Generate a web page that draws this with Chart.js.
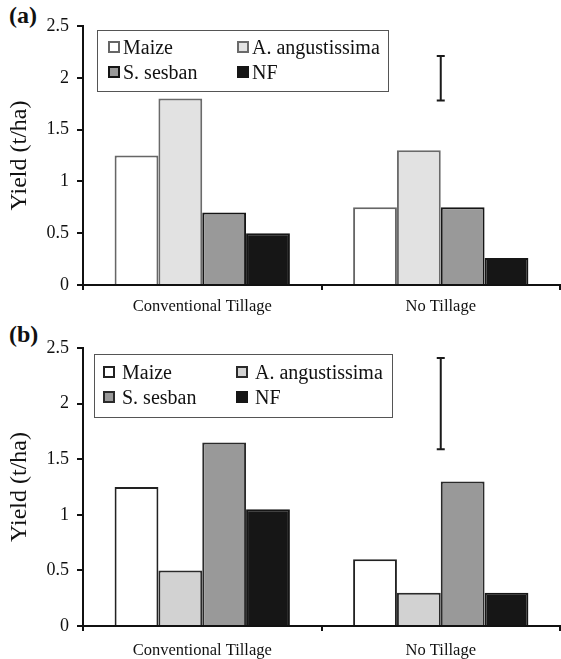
<!DOCTYPE html>
<html>
<head>
<meta charset="utf-8">
<script src="https://cdn.jsdelivr.net/npm/chart.js@4/dist/chart.umd.min.js"></script>
<style>
  body { margin: 0; background: #fff; }
  #wrap { position: relative; width: 561px; height: 659px; font-family: "Liberation Serif", "Times New Roman", serif; }
  canvas { position: absolute; left: 0; }
  .tag { position: absolute; font-weight: bold; font-size: 24px; color: #111; }
  .legend { position: absolute; border: 1.5px solid #555; box-sizing: border-box; }
  .item { position: absolute; font-size: 20px; color: #111; line-height: 20px; white-space: nowrap; }
  .sw { display: inline-block; width: 8px; height: 8px; border: 2px solid; vertical-align: 1px; }
</style>
</head>
<body>
<div id="wrap">
  <div class="tag" style="left:9px; top:2px;">(a)</div>
  <div class="tag" style="left:9px; top:321px;">(b)</div>
  <canvas id="chartA" width="561" height="320" style="top:0"></canvas>
  <canvas id="chartB" width="561" height="339" style="top:320px"></canvas>
  <div id="legendA" class="legend" style="left:97px; top:30px; width:292px; height:62px;"></div>
  <div id="legendB" class="legend" style="left:94px; top:354px; width:299px; height:64px;"></div>
</div>
<script>
// datos
const categories = ["Conventional Tillage", "No Tillage"];
const seriesNames = ["Maize", "A. angustissima", "S. sesban", "NF"];
const yTicks = [0, 0.5, 1, 1.5, 2, 2.5];

// panel (a)
const maizeA = [1.25, 0.75];
const angustissimaA = [1.8, 1.3];
const sesbanA = [0.7, 0.75];
const nfA = [0.5, 0.26];
const lsdA = [1.78, 2.21];

// panel (b)
const maizeB = [1.25, 0.6];
const angustissimaB = [0.5, 0.3];
const sesbanB = [1.65, 1.3];
const nfB = [1.05, 0.3];
const lsdB = [1.59, 2.41];

// colores por panel: relleno y borde
const fillA = ["#ffffff", "#e2e2e2", "#999999", "#161616"];
const edgeA = ["#666666", "#6a6a6a", "#151515", "#161616"];
const fillB = ["#ffffff", "#d2d2d2", "#999999", "#161616"];
const edgeB = ["#222222", "#2a2a2a", "#2a2a2a", "#161616"];

Chart.defaults.font.family = "'Liberation Serif', 'Times New Roman', serif";
Chart.defaults.color = "#111";

// barra de error (LSD) dibujada con las escalas del grafico
const lsdPlugin = {
  id: "lsd",
  afterDatasetsDraw(chart, args, opts) {
    const ctx = chart.ctx;
    const x = chart.scales.x.getPixelForValue(opts.category);
    const y1 = chart.scales.y.getPixelForValue(opts.range[0]);
    const y2 = chart.scales.y.getPixelForValue(opts.range[1]);
    ctx.save();
    ctx.strokeStyle = "#1a1a1a";
    ctx.lineWidth = 2;
    ctx.beginPath();
    ctx.moveTo(x, y1);
    ctx.lineTo(x, y2);
    ctx.moveTo(x - 4, y1);
    ctx.lineTo(x + 4, y1);
    ctx.moveTo(x - 4, y2);
    ctx.lineTo(x + 4, y2);
    ctx.stroke();
    ctx.restore();
  },
};

function makePanel(id, series, fills, edges, lsd, padTop, xHeight, xPad) {
  const datasets = series.map((values, i) => ({
    label: seriesNames[i],
    data: values,
    backgroundColor: fills[i],
    borderColor: edges[i],
    borderWidth: 2,
    borderSkipped: "bottom",
    barPercentage: 1,
    categoryPercentage: 0.735,
  }));

  return new Chart(document.getElementById(id), {
    type: "bar",
    data: { labels: categories, datasets: datasets },
    plugins: [lsdPlugin],
    options: {
      responsive: false,
      animation: false,
      layout: { padding: { top: padTop, right: 1, left: 0, bottom: 0 } },
      plugins: {
        legend: { display: false },
        tooltip: { enabled: false },
        lsd: { category: 1, range: lsd },
      },
      scales: {
        x: {
          afterFit: (scale) => { scale.height = xHeight; },
          border: { color: "#111", width: 2 },
          grid: { drawOnChartArea: false, color: "#111", lineWidth: 2, tickLength: 5 },
          ticks: { font: { size: 16.5 }, padding: xPad, color: "#111" },
        },
        y: {
          min: 0,
          max: 2.5,
          afterFit: (scale) => { scale.width = 83; },
          afterBuildTicks: (scale) => { scale.ticks = yTicks.map((v) => ({ value: v })); },
          border: { color: "#111", width: 2 },
          grid: { drawOnChartArea: false, color: "#111", lineWidth: 2, tickLength: 6 },
          ticks: {
            font: { size: 18 },
            padding: 8,
            color: "#111",
            callback: (value) => String(value),
          },
          title: {
            display: true,
            text: "Yield (t/ha)",
            font: { size: 24 },
            color: "#111",
            padding: { top: 5, bottom: 0 },
          },
        },
      },
    },
  });
}

function makeLegend(id, fills, edges, cols, rows, textGap) {
  const box = document.getElementById(id);
  seriesNames.forEach((name, i) => {
    const el = document.createElement("div");
    el.className = "item";
    el.style.left = cols[i % 2] + "px";
    el.style.top = rows[Math.floor(i / 2)] + "px";
    el.innerHTML =
      '<span class="sw" style="background:' + fills[i] + ";border-color:" + edges[i] +
      ";margin-right:" + textGap + 'px"></span>' + name;
    box.appendChild(el);
  });
}

makePanel("chartA", [maizeA, angustissimaA, sesbanA, nfA], fillA, edgeA, lsdA, 26, 35, 7);
makePanel("chartB", [maizeB, angustissimaB, sesbanB, nfB], fillB, edgeB, lsdB, 28, 33, 10);

makeLegend("legendA", fillA, edgeA, [10, 139], [6, 31], 3);
makeLegend("legendB", fillB, edgeB, [8, 141], [7, 32], 7);
</script>
</body>
</html>
